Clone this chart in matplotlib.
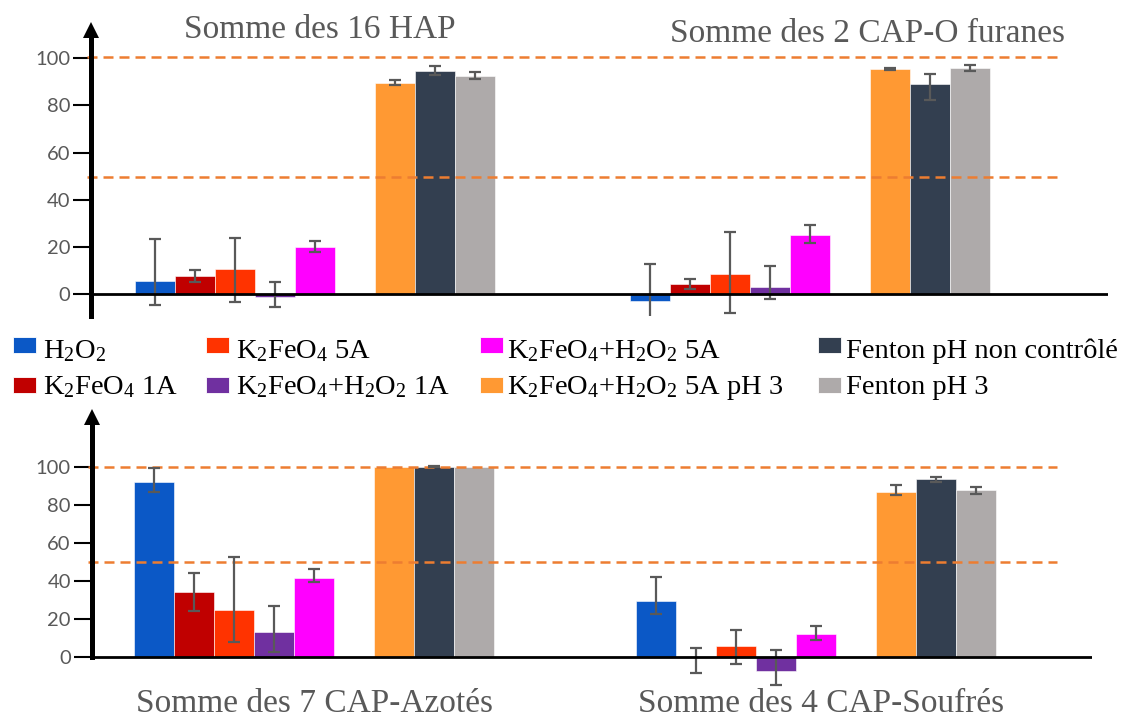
import matplotlib

matplotlib.use("Agg")
import matplotlib.pyplot as plt
import numpy as np
from matplotlib.patches import Rectangle

plt.rcParams["font.family"] = "Lato"
plt.rcParams["mathtext.fontset"] = "custom"
plt.rcParams["mathtext.rm"] = "Liberation Serif"
plt.rcParams["mathtext.default"] = "regular"

# ── data: abattement (%) per treatment, with lower / upper error ─────
SERIES = [r"H$_2$O$_2$", r"K$_2$FeO$_4$ 1A", r"K$_2$FeO$_4$ 5A",
          r"K$_2$FeO$_4$+H$_2$O$_2$ 1A", r"K$_2$FeO$_4$+H$_2$O$_2$ 5A",
          r"K$_2$FeO$_4$+H$_2$O$_2$ 5A pH 3", "Fenton pH non contrôlé", "Fenton pH 3"]
COLORS = ["#0B58C6", "#C00000", "#FF3300", "#7030A0",
          "#FF00FF", "#FF9933", "#333F50", "#AEAAAA"]

TOP_TITLES = ["Somme des 16 HAP", "Somme des 2 CAP-O furanes"]
BOTTOM_TITLES = ["Somme des 7 CAP-Azotés", "Somme des 4 CAP-Soufrés"]

hap16 = [5.6, 7.6, 10.5, -1.1, 20.1, 89.7, 94.5, 92.3]
hap16_lo = [10.3, 2.4, 13.8, 4.3, 2.3, 1.0, 1.4, 1.2]
hap16_hi = [17.6, 2.6, 13.1, 6.3, 2.5, 1.0, 2.1, 1.8]

furanes = [-2.9, 4.2, 8.5, 3.1, 25.2, 95.3, 89.1, 95.9]
furanes_lo = [11.2, 2.2, 16.4, 5.2, 3.4, 0.4, 6.8, 1.4]
furanes_hi = [15.8, 2.4, 18.0, 8.9, 4.3, 0.4, 4.1, 1.1]

azotes = [92.1, 34.4, 24.8, 13.1, 41.4, 100.0, 100.0, 100.0]
azotes_lo = [5.2, 10.1, 16.6, 10.3, 2.1, 0.0, 0.3, 0.0]
azotes_hi = [7.4, 9.7, 27.8, 13.7, 5.1, 0.0, 0.3, 0.0]

soufres = [29.7, 0.3, 5.9, -7.0, 12.4, 86.9, 93.4, 87.9]
soufres_lo = [7.0, 8.7, 9.6, 7.5, 3.5, 1.7, 1.3, 2.2]
soufres_hi = [12.3, 4.4, 8.4, 10.7, 4.2, 3.7, 1.4, 1.4]

TOP_DASH = [49.5, 100.7]
BOTTOM_DASH = [50, 100]

# ── layout ───────────────────────────────────────────────────────────
W, H = 1126, 718
SLOTS = np.array([-4, -3, -2, -1, 0, 2, 3, 4])   # empty slot between the two sub-groups
ERR_C = "#595959"
DASH_C = "#ED7D31"
TXT_GREY = "#595959"
SERIF = "Liberation Serif"

fig = plt.figure(figsize=(W / 100, H / 100), dpi=100)


def panel(px_left, px_right, px_top, px_bottom, ylim, xlim):
    ax = fig.add_axes([px_left / W, 1 - px_bottom / H,
                       (px_right - px_left) / W, (px_bottom - px_top) / H])
    ax.set_ylim(*ylim)
    ax.set_xlim(*xlim)
    ax.px_per_unit = (px_bottom - px_top) / (ylim[1] - ylim[0])
    return ax


def draw(ax, groups, centers, dash_levels, dash_end, spine_low):
    for c, (vals, lo, hi) in zip(centers, groups):
        x = c + SLOTS
        ax.bar(x, vals, width=1.0, color=COLORS, edgecolor="white",
               linewidth=0.4, zorder=2)
        err = np.array([lo, hi])
        m = err.sum(axis=0) > 0
        ax.errorbar(x[m], np.array(vals)[m], yerr=err[:, m], fmt="none",
                    ecolor=ERR_C, elinewidth=1.6, capsize=4.2, capthick=1.6, zorder=4)
    ax.axhline(0, color="black", lw=2.0, zorder=5)
    x0 = ax.get_xlim()[0]
    for lev in dash_levels:
        ax.plot([x0 - 0.1, dash_end], [lev, lev], color=DASH_C, lw=1.8,
                ls=(0, (4, 2.4)), zorder=3, clip_on=False)

    for s in ("top", "right", "bottom"):
        ax.spines[s].set_visible(False)
    ytop = ax.get_ylim()[1]
    head = 8.5 / ax.px_per_unit
    ax.spines["left"].set_linewidth(3.6)
    ax.spines["left"].set_bounds(spine_low, ytop - head)
    ax.spines["left"].set_zorder(6)
    ax.plot([0], [ytop - head], marker="^", ms=12.2, mew=0, color="black",
            transform=ax.get_yaxis_transform(), clip_on=False, zorder=7)

    ax.set_xticks([])
    ax.set_yticks(range(0, 101, 20))
    ax.tick_params(axis="y", length=13, width=1.5, color="black",
                   labelcolor=TXT_GREY, labelsize=14.5, pad=2)


ax_top = panel(91, 1108, 21.7, 316, (-9.3, 115.5), (-5.6, 19.825))
draw(ax_top,
     [(hap16, hap16_lo, hap16_hi), (furanes, furanes_lo, furanes_hi)],
     [0, 12.375], TOP_DASH, 18.63, -9.3)

ax_bot = panel(91.7, 1092, 408, 695.4, (-20, 130.8), (-5.56, 19.45))
draw(ax_bot,
     [(azotes, azotes_lo, azotes_hi), (soufres, soufres_lo, soufres_hi)],
     [0, 12.55], BOTTOM_DASH, 18.58, 0)

# panel titles
for (px, py), t in zip([(320, 38.3), (868, 41.7)], TOP_TITLES):
    fig.text(px / W, 1 - py / H, t, ha="center", va="baseline",
             fontsize=24, color=TXT_GREY, family=SERIF)
for (px, py), t in zip([(315, 712), (821, 712)], BOTTOM_TITLES):
    fig.text(px / W, 1 - py / H, t, ha="center", va="baseline",
             fontsize=24, color=TXT_GREY, family=SERIF)

# shared legend, filled column by column
MARK_X = [13, 206, 480, 818]
TEXT_X = [43, 236, 507, 846]
MARK_TOP = [337, 377]
TEXT_BASE = [358, 394]
for i, (name, col) in enumerate(zip(SERIES, COLORS)):
    c, r = divmod(i, 2)
    fig.add_artist(Rectangle((MARK_X[c] / W, 1 - (MARK_TOP[r] + 16) / H),
                             23 / W, 16 / H, transform=fig.transFigure,
                             facecolor=col, edgecolor="white", linewidth=0.6))
    fig.text(TEXT_X[c] / W, 1 - TEXT_BASE[r] / H, name, ha="left",
             va="baseline", fontsize=20.5, color="black", family=SERIF)

fig.savefig("out.png", dpi=100, facecolor="white")
